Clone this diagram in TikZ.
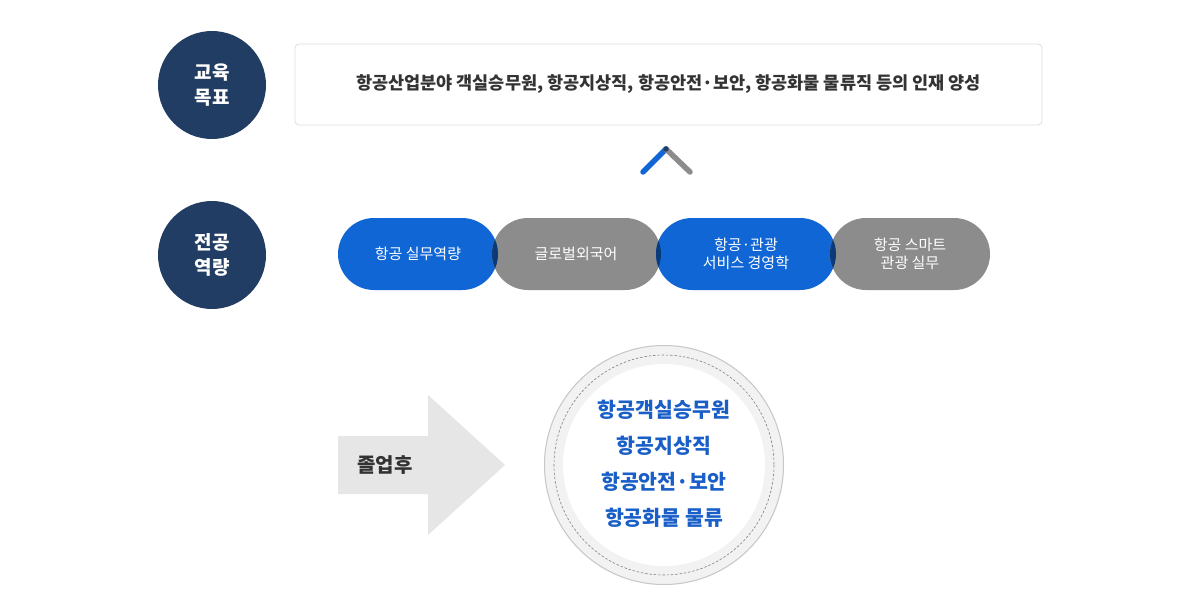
\documentclass[tikz,border=0pt]{standalone}
\usepackage{fontspec}
\setmainfont{Noto Sans CJK KR}
\definecolor{navy}{HTML}{213D63}
\definecolor{pblue}{HTML}{1166D6}
\definecolor{pgray}{HTML}{8C8C8C}
\definecolor{ovl}{HTML}{0A3A78}
\definecolor{tgray}{HTML}{333333}
\definecolor{arrowg}{HTML}{E6E6E6}
\definecolor{jobblue}{HTML}{1A5FC8}
\tikzset{
  x=1pt,y=-1pt,
  labelcirc/.style={circle,fill=navy,minimum size=108pt,inner sep=0pt,text=white,font=\fontsize{19}{25}\selectfont\bfseries,align=center},
  pilltext/.style={text=white,font=\fontsize{15}{18}\selectfont,align=center},
  jobtext/.style={text=jobblue,font=\fontsize{20.5}{24}\selectfont\bfseries},
  pill/.style={rounded corners=36pt},
}
\begin{document}
\begin{tikzpicture}
\useasboundingbox (0,0) rectangle (1200,615);
\fill[white] (0,0) rectangle (1200,615);
% label circles
\node[labelcirc] (goal) at (212,85) {교육\\목표};
\node[labelcirc] (major) at (212,255) {전공\\역량};
% top box
\draw[draw=black!13,fill=white,rounded corners=4pt,line width=0.8pt] (295,44) rectangle (1042,125);
\node[text=tgray,font=\fontsize{17.5}{20}\selectfont\bfseries] (goaltext) at (668.5,84.5) {항공산업분야 객실승무원, 항공지상직, 항공안전·보안, 항공화물 물류직 등의 인재 양성};
% chevron
\coordinate (cl) at (643,172);
\coordinate (ct) at (666,149);
\coordinate (cr) at (690,172);
\draw[pblue,line width=5.5pt,line cap=round] (cl) -- (ct);
\draw[pgray,line width=5.5pt,line cap=round] (ct) -- (cr);
\fill[navy] (ct) circle (2.75pt);
% pills
\def\pillA{(338,218) rectangle (498,290)}
\def\pillB{(492,218) rectangle (661,290)}
\def\pillC{(656,218) rectangle (836,290)}
\def\pillD{(830,218) rectangle (990,290)}
\fill[pblue,pill] \pillA;
\fill[pgray,pill] \pillB;
\fill[pblue,pill] \pillC;
\fill[pgray,pill] \pillD;
\begin{scope}\clip[pill] \pillA; \fill[ovl,pill] \pillB; \end{scope}
\begin{scope}\clip[pill] \pillB; \fill[ovl,pill] \pillC; \end{scope}
\begin{scope}\clip[pill] \pillC; \fill[ovl,pill] \pillD; \end{scope}
\node[pilltext] (p1) at (418,254) {항공 실무역량};
\node[pilltext] (p2) at (576,254) {글로벌외국어};
\node[pilltext] (p3) at (746,254) {항공·관광\\서비스 경영학};
\node[pilltext] (p4) at (910,254) {항공 스마트\\관광 실무};
% arrow
\fill[arrowg] (338,436) -- (428,436) -- (428,395) -- (505,465) -- (428,535) -- (428,494) -- (338,494) -- cycle;
\node[text=tgray,font=\fontsize{20}{22}\selectfont\bfseries] (after) at (385,465) {졸업후};
% big circle
\coordinate (bc) at (664,465);
\fill[black!5] (bc) circle (120);
\draw[black!22,line width=1pt] (bc) circle (119.5);
\fill[white] (bc) circle (101);
\draw[black!50,line width=0.6pt,dash pattern=on 2.5pt off 1.8pt] (bc) circle (110);
\node[jobtext] (j1) at (664,410) {항공객실승무원};
\node[jobtext] (j2) at (664,446) {항공지상직};
\node[jobtext] (j3) at (664,482) {항공안전·보안};
\node[jobtext] (j4) at (664,518) {항공화물 물류};
\end{tikzpicture}
\end{document}
